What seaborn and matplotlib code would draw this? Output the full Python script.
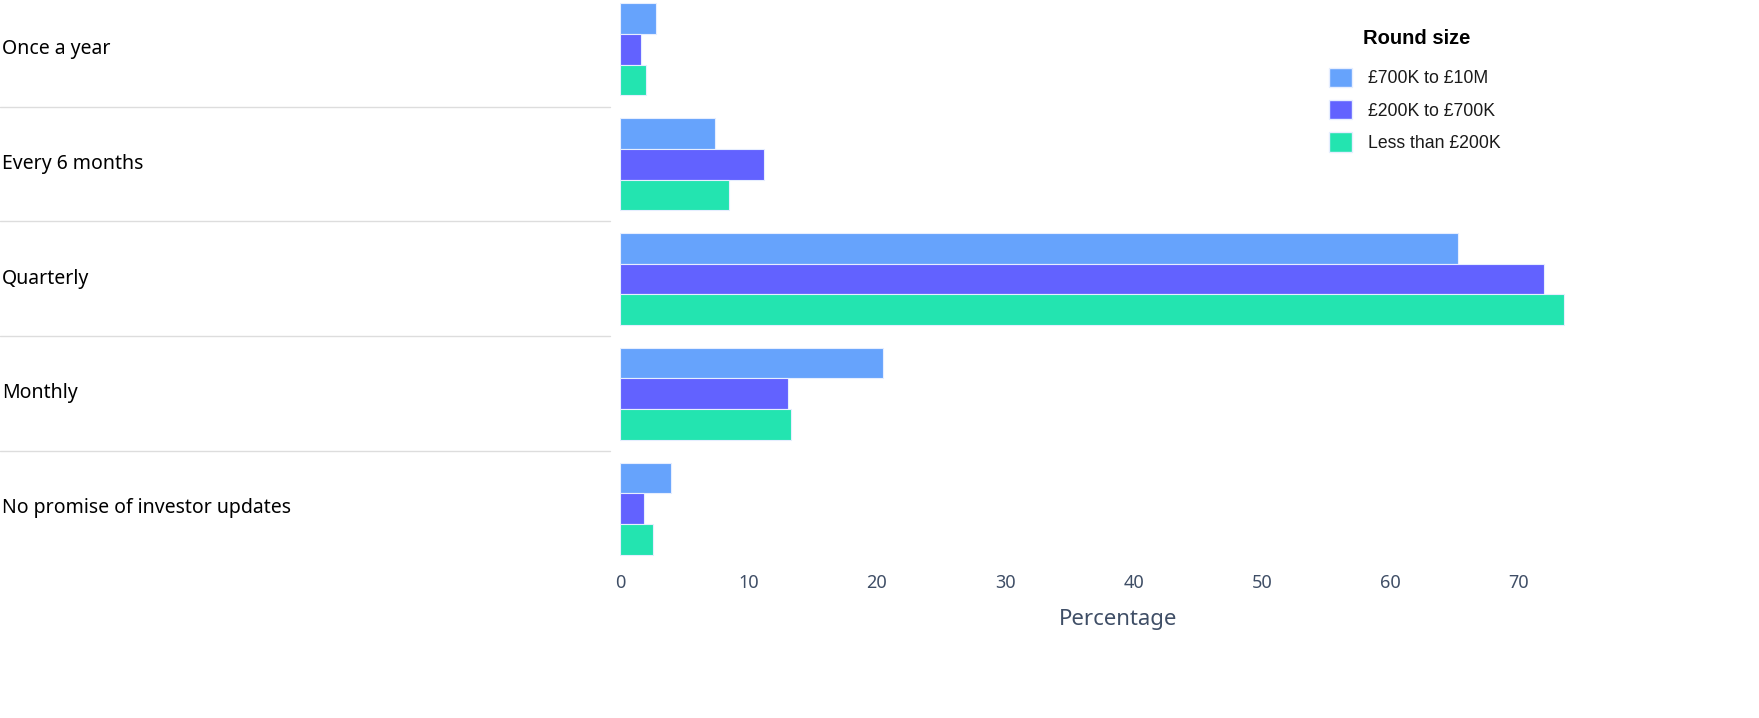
import pandas as pd
import matplotlib.pyplot as plt
import seaborn as sns
from matplotlib.lines import Line2D

# ── data ────────────────────────────────────────────────────────────────────
frequencies = ["Once a year", "Every 6 months", "Quarterly", "Monthly",
               "No promise of investor updates"]
round_sizes = ["£700K to £10M", "£200K to £700K", "Less than £200K"]

pct_700k_10m = [2.8, 7.4, 65.3, 20.5, 4.0]
pct_200k_700k = [1.6, 11.2, 72.0, 13.1, 1.9]
pct_under_200k = [2.0, 8.5, 73.5, 13.3, 2.6]

colors = ["#66a3fc", "#6262ff", "#23e4b0"]

rows = []
for size, vals in zip(round_sizes, [pct_700k_10m, pct_200k_700k, pct_under_200k]):
    for freq, v in zip(frequencies, vals):
        rows.append({"Frequency": freq, "Round size": size, "Percentage": v})
df = pd.DataFrame(rows)

# ── plot ────────────────────────────────────────────────────────────────────
sns.set_style("white")
plt.rcParams["font.family"] = ["Noto Sans", "DejaVu Sans"]

fig = plt.figure(figsize=(17.59, 7.18), dpi=100)
ax = fig.add_axes([620 / 1759, (718 - 566) / 718, 945 / 1759, 574 / 718])

sns.barplot(data=df, y="Frequency", x="Percentage", hue="Round size",
            order=frequencies, hue_order=round_sizes, palette=colors,
            saturation=1, orient="h", width=0.8, edgecolor="#e6eeff",
            linewidth=0.8, legend=False, ax=ax)

ax.set_xlim(0, 73.6)
ax.set_ylim(4.5, -0.5)
ax.set_xticks(range(0, 71, 10))
ax.tick_params(axis="x", length=0, labelsize=13, labelcolor="#3f4e66", pad=6)
ax.set_yticks([])
ax.set_ylabel("")
ax.set_xlabel("Percentage", fontsize=16, color="#3f4e66")
ax.xaxis.set_label_coords(0.527, -0.075)
sns.despine(ax=ax, left=True, bottom=True)

# category labels and separators in the left margin
for i, freq in enumerate(frequencies):
    y_fig = (718 - (49 + i * 114.8)) / 718
    fig.text(2 / 1759, y_fig, freq, fontsize=14, color="black",
             ha="left", va="center")
for i in range(1, 5):
    y_fig = (718 - (106.5 + (i - 1) * 114.8)) / 718
    fig.add_artist(Line2D([0, 610 / 1759], [y_fig, y_fig],
                          color="#dddddd", linewidth=1))

# legend
handles = [plt.Rectangle((0, 0), 1, 1, facecolor=c, edgecolor="#e6eeff")
           for c in colors]
fig.legend(handles, round_sizes, loc="upper left",
           bbox_to_anchor=(1313 / 1759, 1 - 52 / 718),
           frameon=False, prop={"family": "Liberation Sans", "size": 12.7},
           labelcolor="#1a1a1a",
           handlelength=1.3, handleheight=1.3, handletextpad=0.9,
           labelspacing=0.72)
fig.text(1363 / 1759, 1 - 38 / 718, "Round size", family="Liberation Sans",
         fontsize=14.5, weight="bold", color="black", ha="left", va="center")

fig.savefig("out.png", dpi=100)
